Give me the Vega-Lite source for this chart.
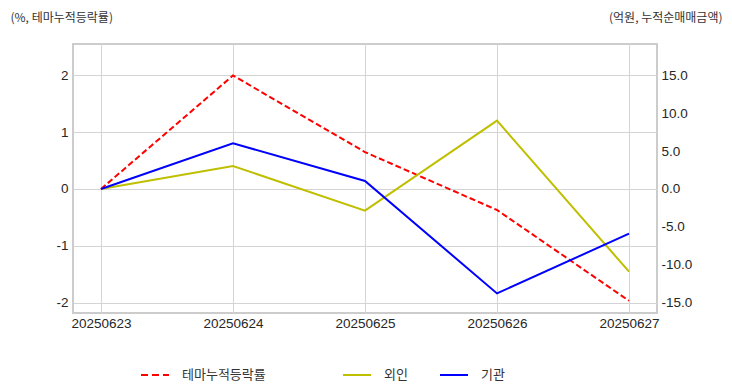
{
  "$schema": "https://vega.github.io/schema/vega-lite/v6.json",
  "width": 584,
  "height": 269,
  "autosize": "none",
  "padding": {"left": 73, "top": 44, "right": 75, "bottom": 79},
  "config": {
    "font": "Noto Sans CJK KR",
    "view": {"stroke": "#cccccc", "strokeWidth": 2},
    "axis": {
      "labelFont": "Liberation Sans",
      "labelFontSize": 13.5,
      "labelColor": "#262626",
      "gridColor": "#d4d4d4",
      "gridWidth": 1,
      "domain": false,
      "ticks": false,
      "titleFont": "Noto Sans CJK KR",
      "titleFontSize": 12,
      "titleFontWeight": "normal",
      "titleColor": "#333333"
    },
    "legend": {
      "labelFont": "Noto Sans CJK KR",
      "labelFontSize": 13,
      "labelColor": "#333333",
      "symbolType": "stroke",
      "symbolSize": 784,
      "symbolStrokeWidth": 2,
      "labelOffset": 12
    }
  },
  "datasets": {
    "theme": [
      {"date": "20250623", "series": "테마누적등락률", "value": 0},
      {"date": "20250624", "series": "테마누적등락률", "value": 2.0},
      {"date": "20250625", "series": "테마누적등락률", "value": 0.65},
      {"date": "20250626", "series": "테마누적등락률", "value": -0.37},
      {"date": "20250627", "series": "테마누적등락률", "value": -1.97}
    ],
    "flow": [
      {"date": "20250623", "series": "외인", "value": 0},
      {"date": "20250624", "series": "외인", "value": 3.04},
      {"date": "20250625", "series": "외인", "value": -2.87},
      {"date": "20250626", "series": "외인", "value": 9.03},
      {"date": "20250627", "series": "외인", "value": -10.93},
      {"date": "20250623", "series": "기관", "value": 0},
      {"date": "20250624", "series": "기관", "value": 6.04},
      {"date": "20250625", "series": "기관", "value": 1.06},
      {"date": "20250626", "series": "기관", "value": -13.8},
      {"date": "20250627", "series": "기관", "value": -5.9}
    ]
  },
  "encoding": {
    "x": {
      "field": "date",
      "type": "ordinal",
      "scale": {"type": "point", "padding": 0.212},
      "axis": {"labelAngle": 0, "title": null, "grid": true, "labelPadding": 3}
    }
  },
  "layer": [
    {
      "data": {"name": "theme"},
      "mark": {"type": "line", "strokeDash": [6, 3], "strokeWidth": 2},
      "encoding": {
        "y": {
          "field": "value",
          "type": "quantitative",
          "scale": {"domain": [-2.185, 2.555], "nice": false, "zero": false},
          "axis": {
            "orient": "left",
            "values": [-2, -1, 0, 1, 2],
            "labelExpr": "replace(datum.label, '−', '-')",
            "labelPadding": 5,
            "title": "(%, 테마누적등락률)",
            "titleAngle": 0,
            "titleAlign": "left",
            "titleBaseline": "middle",
            "titleX": -63,
            "titleY": -27
          }
        },
        "color": {
          "field": "series",
          "type": "nominal",
          "scale": {"domain": ["테마누적등락률"], "range": ["#ff0000"]},
          "legend": {
            "orient": "none",
            "legendX": 67,
            "legendY": 316,
            "title": null,
            "symbolDash": [7, 4],
            "direction": "horizontal"
          }
        }
      }
    },
    {
      "data": {"name": "flow"},
      "mark": {"type": "line", "strokeWidth": 2},
      "encoding": {
        "y": {
          "field": "value",
          "type": "quantitative",
          "scale": {"domain": [-16.39, 19.16], "nice": false, "zero": false},
          "axis": {
            "orient": "right",
            "values": [-15, -10, -5, 0, 5, 10, 15],
            "format": ".1f",
            "labelExpr": "replace(datum.label, '−', '-')",
            "labelPadding": 4,
            "title": "(억원, 누적순매매금액)",
            "titleAngle": 0,
            "titleAlign": "right",
            "titleBaseline": "middle",
            "titleX": 65,
            "titleY": -27
          }
        },
        "color": {
          "field": "series",
          "type": "nominal",
          "scale": {"domain": ["외인", "기관"], "range": ["#bfbf00", "#0000ff"]},
          "legend": {
            "orient": "none",
            "legendX": 269,
            "legendY": 316,
            "title": null,
            "direction": "horizontal",
            "columnPadding": 28
          }
        }
      }
    }
  ],
  "resolve": {"scale": {"y": "independent", "color": "independent"}}
}
